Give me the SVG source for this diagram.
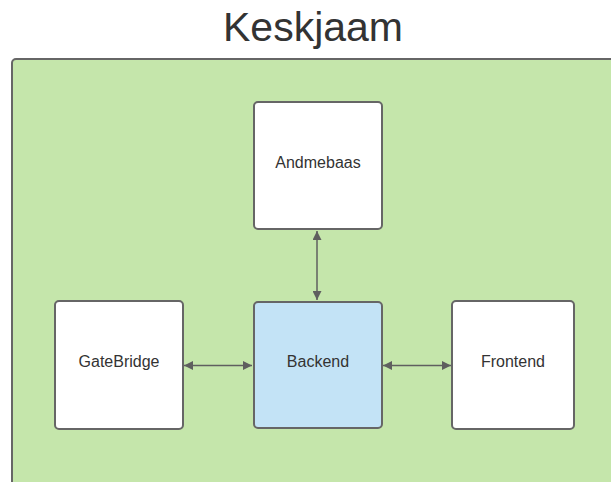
<svg xmlns="http://www.w3.org/2000/svg" width="611" height="482" viewBox="0 0 611 482">
  <style>
    .title { font-family: "Liberation Sans", Arial, sans-serif; font-size: 41px; fill: #333333; }
    .node rect { fill: #ffffff; stroke: #666666; stroke-width: 2; }
    .node.hl rect { fill: #c3e3f6; }
    .node text { font-family: "Liberation Sans", Arial, sans-serif; font-size: 16px; fill: #333333; text-anchor: middle; dominant-baseline: central; }
    .link { stroke: #5f5f5f; stroke-width: 1.5; fill: none; marker-start: url(#head); marker-end: url(#head); }
  </style>
  <defs>
    <marker id="head" viewBox="0 0 10 10" refX="10" refY="5" markerWidth="11" markerHeight="9" markerUnits="userSpaceOnUse" orient="auto-start-reverse">
      <path d="M0,0 L10,5 L0,10 Z" fill="#5f5f5f"/>
    </marker>
  </defs>
  <rect width="611" height="482" fill="#ffffff"/>
  <text class="title" x="313" y="41" text-anchor="middle">Keskjaam</text>

  <!-- region container -->
  <g id="region">
    <rect x="12" y="59" width="620" height="440" rx="4" fill="#c5e6ab" stroke="#666666" stroke-width="2"/>
  </g>

  <!-- connectors -->
  <g id="connectors">
    <line class="link" x1="317" y1="231" x2="317" y2="300"/>
    <line class="link" x1="184" y1="365.5" x2="252" y2="365.5"/>
    <line class="link" x1="383" y1="365.5" x2="451" y2="365.5"/>
  </g>

  <g id="andmebaas" class="node">
    <rect x="254" y="102" width="128" height="127" rx="4"/>
    <text x="318" y="162">Andmebaas</text>
  </g>
  <g id="gatebridge" class="node">
    <rect x="55" y="301" width="128" height="128" rx="4"/>
    <text x="119" y="361">GateBridge</text>
  </g>
  <g id="backend" class="node hl">
    <rect x="254" y="302" width="128" height="126" rx="4"/>
    <text x="318" y="361">Backend</text>
  </g>
  <g id="frontend" class="node">
    <rect x="452" y="301" width="122" height="128" rx="4"/>
    <text x="513" y="361">Frontend</text>
  </g>
</svg>
